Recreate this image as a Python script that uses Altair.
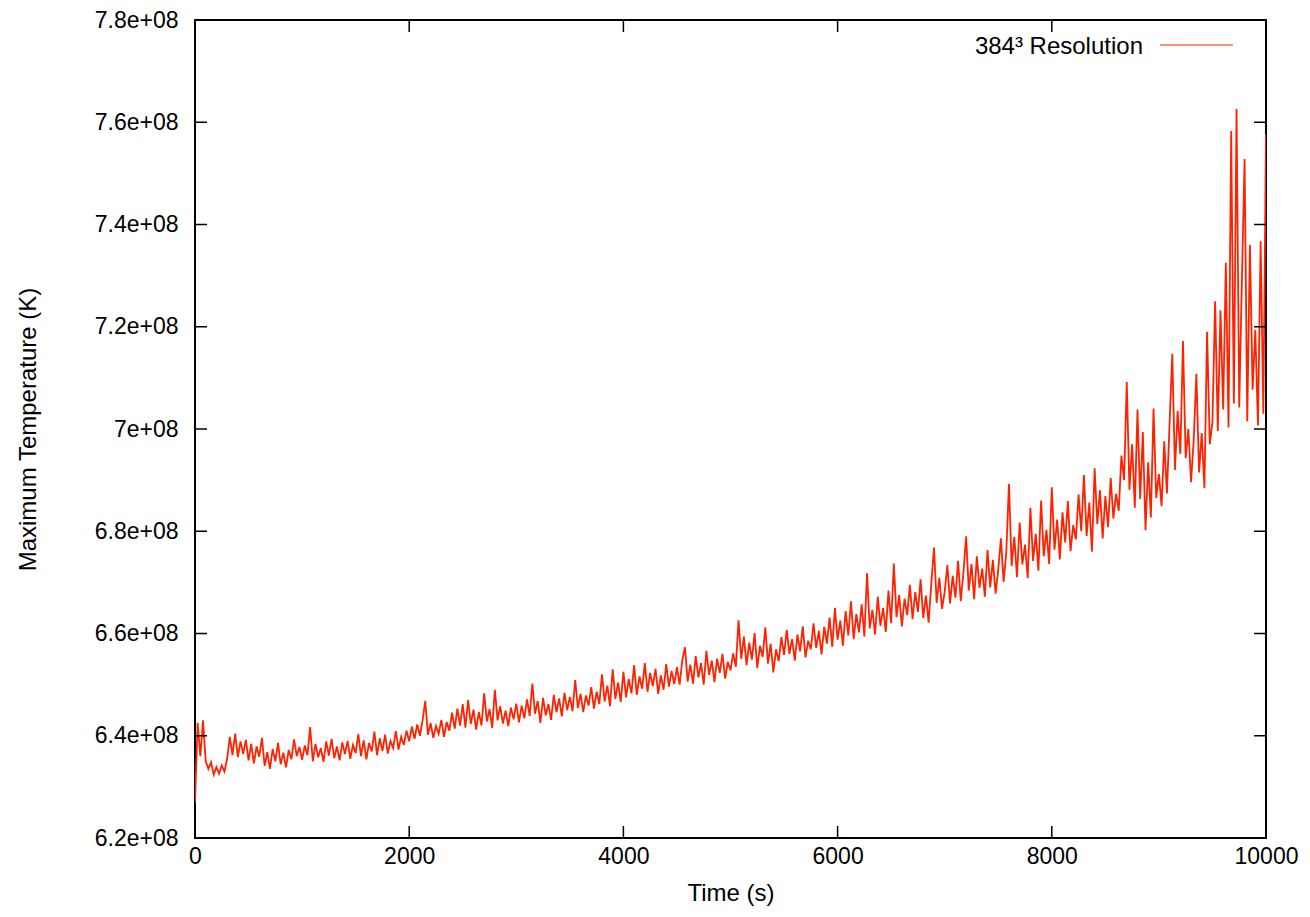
import altair as alt
import pandas as pd

temp_mk = [
    627.0, 642.5, 636.0, 643.0, 635.0, 633.5, 634.8, 632.4, 633.9, 632.6, 634.2, 633.0, 635.5, 639.8, 636.2, 640.4, 635.8, 638.9, 636.4, 639.2,
    635.2, 638.4, 634.6, 637.9, 635.9, 639.6, 634.1, 636.8, 633.5, 637.4, 635.0, 638.6, 634.4, 636.7, 633.8, 637.2, 635.4, 639.3, 636.0, 637.8,
    635.3, 638.1, 636.2, 641.7, 635.0, 638.4, 635.8, 637.6, 634.9, 638.9, 636.1, 639.4, 635.6, 637.9, 635.2, 638.7, 636.4, 639.0, 635.5, 638.2,
    636.6, 640.3, 636.0, 639.1, 635.4, 638.6, 636.9, 640.8, 636.2, 639.5, 637.0, 640.2, 636.5, 639.0, 637.6, 640.9, 637.3, 639.8, 638.2, 641.0,
    638.9, 641.8, 639.4, 642.2, 640.0, 643.0, 646.8, 640.2, 642.5, 639.6, 641.9, 640.4, 643.1, 639.8, 642.7, 641.0, 644.5, 641.4, 645.3, 642.0,
    646.2, 641.6, 647.0, 642.3, 645.1, 641.2, 644.6, 642.0, 648.3, 642.8, 645.2, 641.5, 649.0, 643.0, 645.8, 642.4, 644.9, 641.9, 645.5, 643.2,
    646.3, 642.6, 645.9, 643.4, 647.1, 643.9, 650.2, 644.3, 646.8, 642.5, 647.4, 644.0, 646.2, 643.1, 648.0, 644.6, 647.3, 643.8, 648.4, 645.0,
    647.6, 644.8, 650.9, 645.4, 648.2, 644.6, 647.9, 645.9, 649.5, 645.3, 648.6, 646.2, 652.0, 646.7, 649.8, 645.8, 653.0, 647.2, 650.4, 646.6,
    652.5, 647.5, 651.1, 648.3, 653.8, 648.0, 651.6, 649.2, 654.2, 648.6, 652.3, 649.7, 653.1, 648.2, 651.8, 649.0, 654.0, 649.6, 652.7, 650.1,
    653.4, 650.0, 654.8, 657.3, 650.6, 653.9, 650.2, 655.6, 651.4, 654.2, 650.0, 656.6, 651.9, 654.7, 650.5, 655.1, 652.3, 656.0, 651.2, 654.4,
    652.8, 656.1, 653.5, 662.6, 655.0, 659.4, 653.8, 658.2, 654.9, 660.1, 653.2, 657.6, 655.4, 661.2, 654.1, 658.0, 652.4, 656.9, 654.6, 659.3,
    655.8, 660.7, 656.0, 658.9, 654.7, 659.8, 656.5, 661.4, 655.3, 658.6, 656.9, 662.0, 657.2, 660.5, 655.9, 661.3, 658.0, 663.1, 657.4, 665.0,
    658.8, 662.5, 657.6, 664.4, 659.6, 666.3, 658.9, 663.8, 660.2, 665.7, 659.4, 671.8, 661.0, 664.6, 659.8, 667.2, 661.5, 665.0, 660.3, 668.4,
    662.0, 673.7, 663.2, 667.5, 661.4, 666.8, 663.6, 669.5, 662.8, 668.1, 664.2, 670.6, 663.0, 667.4, 662.1, 669.8, 676.8, 666.0, 670.9, 664.8,
    668.2, 673.4, 665.9, 671.3, 667.0, 674.2, 666.3, 672.0, 679.0, 668.4, 673.6, 666.7, 675.1, 668.9, 672.7, 667.2, 676.3, 669.0, 674.4, 667.8,
    672.5, 678.6, 670.1, 675.8, 689.3, 673.2, 678.9, 671.0, 681.7, 673.5, 677.4, 670.8, 684.6, 674.2, 679.5, 672.3, 686.0, 675.1, 680.3, 673.6,
    688.6, 676.4, 682.3, 674.5, 683.7, 677.8, 685.9, 676.1, 681.2, 678.4, 687.2, 680.0, 691.0, 679.1, 685.6, 676.0, 692.3, 681.4, 688.0, 678.6,
    686.9, 680.8, 690.4, 682.5, 687.3, 684.0, 694.8, 690.0, 709.2, 688.1, 697.0, 684.6, 703.8, 686.3, 699.4, 680.2, 693.5, 682.7, 704.0, 686.5,
    691.2, 684.9, 697.6, 687.4, 701.3, 714.7, 692.0, 703.5, 695.1, 717.2, 694.3, 700.0, 689.6, 697.8, 710.8, 691.5, 699.2, 688.4, 719.0, 697.0,
    701.4, 725.0, 699.6, 723.2, 703.8, 732.5, 700.3, 758.3, 705.0, 762.6, 704.2, 729.0, 752.8, 701.5, 736.0, 707.7, 719.4, 700.7, 736.7, 703.0,
    757.7,
]
time_s = list(range(0, 25 * len(temp_mk), 25))

x_ticks = [0, 2000, 4000, 6000, 8000, 10000]
y_ticks = [6.2e8, 6.4e8, 6.6e8, 6.8e8, 7.0e8, 7.2e8, 7.4e8, 7.6e8, 7.8e8]
series_name = "384\u00b3 Resolution"

W, H = 1071, 818
FONT = "Liberation Sans"
RED = "#ff2200"

df = pd.DataFrame({"t": time_s, "T": [v * 1e6 for v in temp_mk]})
xt = pd.DataFrame({"v": x_ticks})
yt = pd.DataFrame({"v": y_ticks})

xscale = alt.Scale(domain=[0, 10000], nice=False, zero=False)
yscale = alt.Scale(domain=[6.2e8, 7.8e8], nice=False, zero=False)

line = alt.Chart(df).mark_line(color=RED, strokeWidth=1.8, clip=True).encode(
    x=alt.X("t:Q", scale=xscale,
            axis=alt.Axis(title="Time (s)", values=x_ticks, format="d", ticks=False, tickSize=0,
                          domain=False, grid=False, labelFont=FONT, labelFontSize=23,
                          labelColor="black", labelPadding=7, titleFont=FONT, titleFontSize=24,
                          titleFontWeight="normal", titleColor="black", titleY=55,
                          titleBaseline="middle", labelFlush=False)),
    y=alt.Y("T:Q", scale=yscale,
            axis=alt.Axis(title="Maximum Temperature (K)", values=y_ticks,
                          labelExpr="format(datum.value/1e8, '.2~g') + 'e+08'",
                          ticks=False, tickSize=0, domain=False, grid=False, labelFont=FONT,
                          labelFontSize=23, labelColor="black", labelPadding=17,
                          titleFont=FONT, titleFontSize=24, titleFontWeight="normal",
                          titleColor="black", titleX=-167, titleY=H / 2, titleAngle=-90,
                          titleAlign="center", titleBaseline="middle", labelFlush=False)),
)

tick_len = 12
left_ticks = alt.Chart(yt).mark_rule(color="black", strokeWidth=1.5).encode(
    y=alt.Y("v:Q", scale=yscale), x=alt.value(0), x2=alt.value(tick_len))
right_ticks = alt.Chart(yt).mark_rule(color="black", strokeWidth=1.5).encode(
    y=alt.Y("v:Q", scale=yscale), x=alt.value(W - tick_len), x2=alt.value(W))
bottom_ticks = alt.Chart(xt).mark_rule(color="black", strokeWidth=1.5).encode(
    x=alt.X("v:Q", scale=xscale), y=alt.value(H), y2=alt.value(H - tick_len))
top_ticks = alt.Chart(xt).mark_rule(color="black", strokeWidth=1.5).encode(
    x=alt.X("v:Q", scale=xscale), y=alt.value(0), y2=alt.value(tick_len))

leg = pd.DataFrame({"name": [series_name]})
legend_text = alt.Chart(leg).mark_text(
    font=FONT, fontSize=24, align="right", baseline="middle", color="black"
).encode(text="name:N", x=alt.value(948), y=alt.value(27))
legend_line = alt.Chart(leg).mark_rule(color=RED, strokeWidth=1.2).encode(
    x=alt.value(965), x2=alt.value(1038), y=alt.value(25))

chart = alt.layer(
    line, left_ticks, right_ticks, bottom_ticks, top_ticks, legend_text, legend_line
).properties(
    width=W, height=H,
    autosize=alt.AutoSizeParams(type="none"),
    padding={"left": 187, "top": 12, "right": 36, "bottom": 70},
).configure(
    background="white",
    view=alt.ViewConfig(stroke="black", strokeWidth=2, fill="white"),
)

chart.save("out.html", embed_options={"renderer": "svg", "actions": False})
